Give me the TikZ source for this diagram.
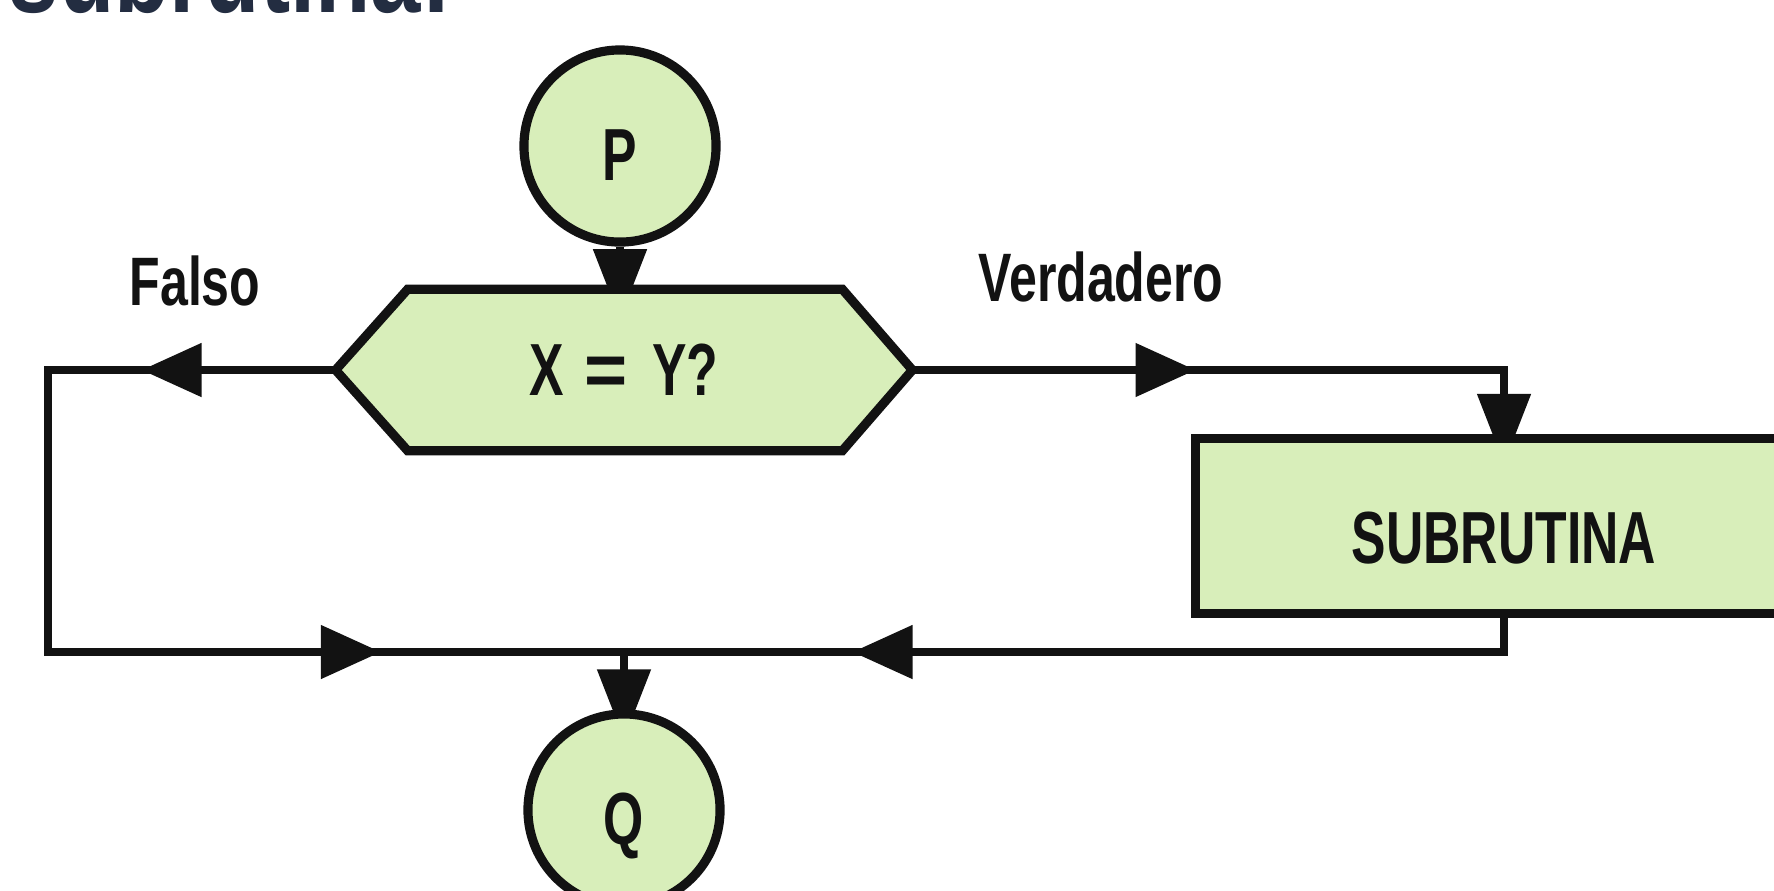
\documentclass[tikz,border=0pt]{standalone}
\usepackage{fontspec}
\setmainfont{Liberation Sans}
\newfontfamily\condA[FakeStretch=0.70]{Liberation Sans Bold}
\newfontfamily\condB[FakeStretch=0.73]{Liberation Sans Bold}
\newfontfamily\condN{Liberation Sans Bold}
\newfontfamily\headfont[FakeStretch=0.78]{Liberation Sans Bold}
\usetikzlibrary{arrows.meta,decorations.markings,calc,backgrounds}
\definecolor{boxfill}{RGB}{216,238,186}
\definecolor{ink}{RGB}{18,18,18}
\definecolor{headcol}{RGB}{35,45,65}
\tikzset{
  bigtri/.tip={Triangle[length=0.6cm,width=0.52cm]},
  vtri/.tip={Triangle[length=0.7cm,width=0.52cm]},
  line/.style={draw=ink,color=ink,line width=2.3pt,line join=miter},
  inarrow/.style={-{vtri},shorten >=-0.3cm},
  shapeline/.style={draw=ink,fill=boxfill,line width=2.6pt,line join=miter},
  term/.style={circle,shapeline,minimum size=1.92cm,inner sep=0pt,
    text height=0.69cm,text depth=0pt,
    font=\condA\fontsize{21}{24}\selectfont,text=ink},
  lbl/.style={anchor=base,inner sep=0pt,font=\condB\fontsize{19.5}{22}\selectfont,text=ink},
  headtxt/.style={anchor=base west,inner sep=0pt,font=\headfont\fontsize{33}{36}\selectfont,text=headcol},
}
\begin{document}
\begin{tikzpicture}[x=0.01cm,y=-0.01cm]
\useasboundingbox (0,0) rectangle (1774,890);
\clip (0,0) rectangle (1774,890);
\node[headtxt] (head) at (8,12) {subrutina:};
% nodes
\node[term] (P) at (620,146) {P};
\node[minimum width=5.75cm,minimum height=1.6cm,inner sep=0pt,
  font=\condA\fontsize{21}{24}\selectfont,text=ink] (hex) at (624,370)
  {X\hspace{0.2cm}{\condN =}\hspace{0.25cm}Y?};
\node[shapeline,rectangle,minimum width=6.16cm,minimum height=1.75cm,inner sep=0pt,
  text height=0.75cm,text depth=0pt,font=\condA\fontsize{21}{24}\selectfont,text=ink] (box) at (1504,526) {SUBRUTINA};
\node[term] (Q) at (624,810) {Q};
\coordinate (jQ) at (624,652);
\coordinate (lx) at (48,0);
% labels
\node[lbl] (falso) at (195,305) {Falso};
\node[lbl] (verd) at (1101,301) {Verdadero};
% connectors (behind the shapes)
\begin{scope}[on background layer]
\draw[line,inarrow] (P.south) -- (P.south |- hex.north);
\draw[line,postaction={decorate},decoration={markings,
    mark=at position 1.94cm with {\arrow{bigtri}},
    mark=at position 9.02cm with {\arrow{bigtri}}}]
  (hex.west) -- (hex.west -| lx) -- (jQ -| lx) -- (jQ);
\draw[line,inarrow,postaction={decorate},decoration={markings,
    mark=at position 2.83cm with {\arrow{bigtri}}}]
  (hex.east) -- (hex.east -| box.north) -- (box.north);
\draw[line,postaction={decorate},decoration={markings,
    mark=at position 6.85cm with {\arrow{bigtri}}}]
  (box.south) -- (box.south |- jQ) -- (jQ);
\draw[line,inarrow] (jQ) -- (Q.north);
\end{scope}
\begin{scope}[on background layer]
\draw[shapeline] (hex.west) -- ([xshift=0.72cm]hex.north west) -- ([xshift=-0.7cm]hex.north east)
  -- (hex.east) -- ([xshift=-0.7cm]hex.south east) -- ([xshift=0.72cm]hex.south west) -- cycle;
\end{scope}
\end{tikzpicture}
\end{document}
